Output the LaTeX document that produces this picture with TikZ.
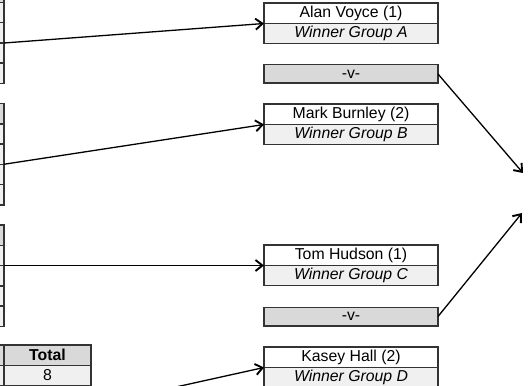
\documentclass[tikz,border=0pt]{standalone}
\usepackage{fontspec}
\setmainfont{Liberation Sans}
\usetikzlibrary{arrows.meta, positioning}
\definecolor{BorderGrey}{HTML}{333333}
\definecolor{HeadGrey}{HTML}{D9D9D9}
\definecolor{RowGrey}{HTML}{F0F0F0}
\tikzset{
  % Table cells
  headcell/.style={rectangle, draw=BorderGrey, fill=HeadGrey, line width=1.5pt, outer sep=0pt, inner sep=0pt, minimum width=40pt, minimum height=20.25pt, anchor=north east, font=\bfseries},
  rowcell/.style={headcell, fill=RowGrey, font={}},
  % Bracket boxes
  namebox/.style={rectangle, draw=BorderGrey, fill=white, line width=1.5pt, outer sep=0pt, inner sep=0pt, minimum width=174pt, minimum height=20.5pt},
  groupbox/.style={namebox, fill=RowGrey, minimum height=20pt, font=\itshape},
  vsbox/.style={namebox, fill=HeadGrey, minimum height=18.5pt},
  % Arrow styles
  arrow/.style={-{Straight Barb[length=7pt, width=11pt, line width=1.9pt]}, line width=1.3pt, black}
}

\begin{document}
\fontsize{15.8}{18}\selectfont
\begin{tikzpicture}[x=1pt, y=-1pt]
  \useasboundingbox (0,0) rectangle (529,385);
  \clip (0,0) rectangle (529,385);

  % Group tables (cut at the left edge)
  \foreach \t/\top in {A/-17.75, B/103.5, C/225} {
    \node[headcell] (tab\t-0) at (4,\top) {};
    \foreach \r in {1,...,4}
      \node[rowcell] (tab\t-\r) at (4,\top+\r*20.25) {};
  }

  % Totals table
  \node[headcell] (totL-0) at (4,345) {};
  \node[rowcell] (totL-1) at (4,365.25) {};
  \node[headcell, minimum width=87pt] (tot-0) at (91,345) {Total};
  \node[rowcell, minimum width=87pt] (tot-1) at (91,365.25) {8};
  \coordinate (totfrom) at (91,405.75);

  % Quarter final boxes
  \node[namebox] (alan) at (351,13.25) {Alan Voyce (1)};
  \node[groupbox, below=0pt of alan] (grpA) {Winner Group A};
  \node[vsbox] (vs1) at (351,74) {-v-};
  \node[namebox] (mark) at (351,114.25) {Mark Burnley (2)};
  \node[groupbox, below=0pt of mark] (grpB) {Winner Group B};

  \node[namebox] (tom) at (351,255.25) {Tom Hudson (1)};
  \node[groupbox, below=0pt of tom] (grpC) {Winner Group C};
  \node[vsbox] (vs2) at (351,316.5) {-v-};
  \node[namebox] (kasey) at (351,357.25) {Kasey Hall (2)};
  \node[groupbox, below=0pt of kasey] (grpD) {Winner Group D};

  % Semi final (off to the right)
  \coordinate (semiTop) at (523,173);
  \coordinate (semiBot) at (522,213);

  \draw[arrow] (tabA-2.south east) -- (alan.south west);
  \draw[arrow] (tabB-2.south east) -- (mark.south west);
  \draw[arrow] (tabC-1.south east) -- (tom.south west);
  \draw[arrow] (totfrom) -- (kasey.south west);
  \draw[arrow] (vs1.east) -- (semiTop);
  \draw[arrow] (vs2.east) -- (semiBot);
\end{tikzpicture}
\end{document}
